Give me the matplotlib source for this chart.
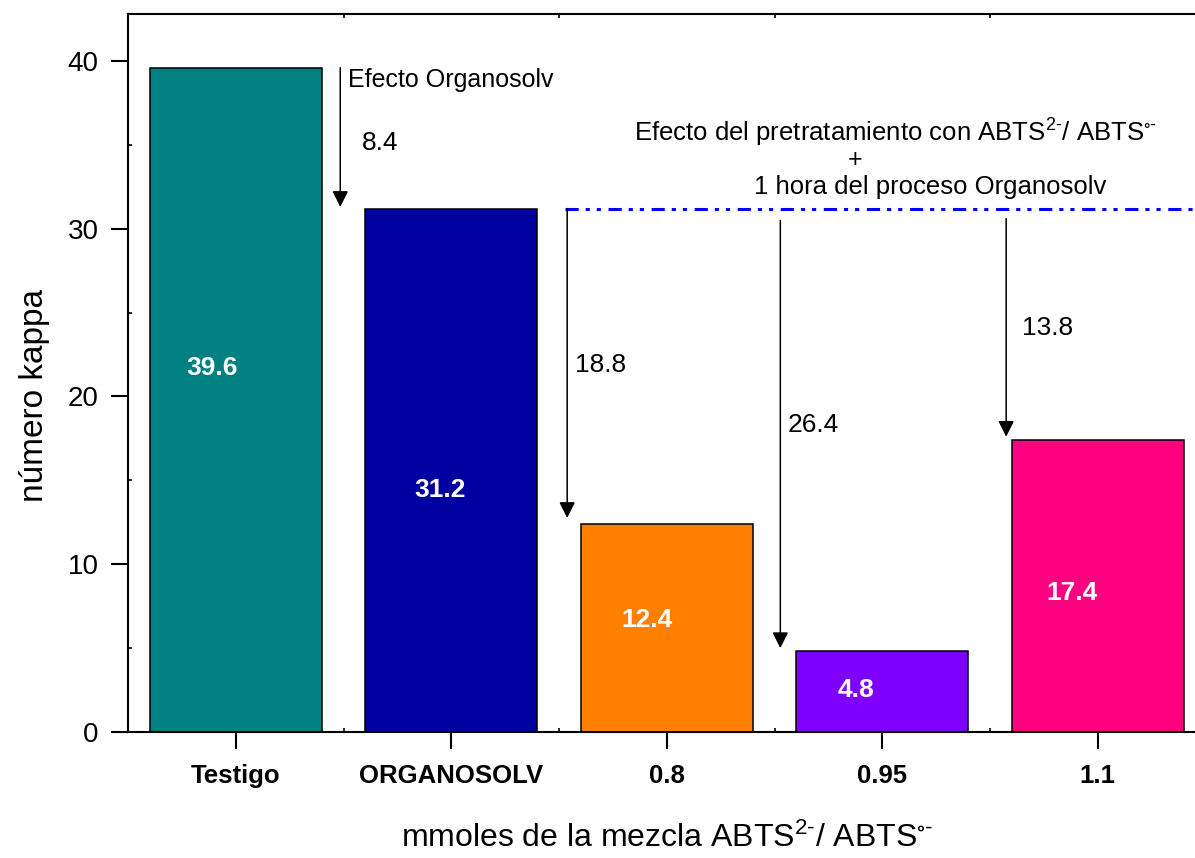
import matplotlib
matplotlib.use('Agg')
import matplotlib.pyplot as plt
from matplotlib.ticker import FixedLocator

plt.rcParams['font.family'] = ['Liberation Sans', 'DejaVu Sans']
plt.rcParams['mathtext.fontset'] = 'custom'
plt.rcParams['mathtext.rm'] = 'Liberation Sans'
plt.rcParams['mathtext.it'] = 'Liberation Sans'
plt.rcParams['mathtext.default'] = 'regular'
plt.rcParams['lines.scale_dashes'] = False

# data
categories = ['Testigo', 'ORGANOSOLV', '0.8', '0.95', '1.1']
kappa = [39.6, 31.2, 12.4, 4.8, 17.4]
bar_colors = ['#008080', '#0000A0', '#FF8000', '#8000FF', '#FF0080']
drop_organosolv = 8.4
drops = [18.8, 26.4, 13.8]

# layout of the in-bar labels
label_y = [21.7, 14.4, 6.7, 2.5, 8.3]
label_dx = [-0.11, -0.05, -0.09, -0.12, -0.12]

fig = plt.figure(figsize=(11.95, 8.58), dpi=100)
ax = fig.add_axes([128 / 1195, 126 / 858, 1077.5 / 1195, 718 / 858])

x = list(range(len(categories)))
ax.bar(x, kappa, width=0.8, color=bar_colors, edgecolor='black', linewidth=1.1, zorder=2)

for i, v in enumerate(kappa):
    ax.text(i + label_dx[i], label_y[i], '%.1f' % v, color='white', fontsize=19,
            fontweight='bold', ha='center', va='center', zorder=3)

ax.set_xlim(-0.5, 4.5)
ax.set_ylim(0, 42.8)

# arrows
arrow = dict(arrowstyle='-|>', color='black', lw=1.1, mutation_scale=24, shrinkA=0, shrinkB=0)
ax.annotate('', xy=(0.485, kappa[0] - drop_organosolv + 0.1), xytext=(0.485, kappa[0]), arrowprops=arrow)
ax.text(0.522, 38.87, 'Efecto Organosolv', fontsize=18, ha='left', va='center')
ax.text(0.587, 35.1, '%.1f' % drop_organosolv, fontsize=19, ha='left', va='center')

# reference line at the ORGANOSOLV level
ax.plot([1.53, 4.5], [kappa[1], kappa[1]], color='#0000FF', lw=2.2,
        dashes=(9.5, 5, 3, 5, 3, 5.5), zorder=1)

arrow_x = [1.538, 2.527, 3.575]
arrow_start = [kappa[1], 30.5, 30.6]
tips = [12.76, 5.0, 17.6]
text_x = [1.575, 2.56, 3.650]
text_y = [21.9, 18.3, 24.1]
for ax_x, y0, y1, tx, ty, d in zip(arrow_x, arrow_start, tips, text_x, text_y, drops):
    ax.annotate('', xy=(ax_x, y1), xytext=(ax_x, y0), arrowprops=arrow)
    ax.text(tx, ty, '%.1f' % d, fontsize=19, ha='left', va='center')

ax.text(3.06, 35.7, r'Efecto del pretratamiento con ABTS$^{2\text{-}}$/ ABTS$^{\circ\text{-}}$',
        fontsize=18.5, ha='center', va='center')
ax.text(2.875, 34.1, '+', fontsize=18, ha='center', va='center')
ax.text(3.223, 32.5, '1 hora del proceso Organosolv', fontsize=18.5, ha='center', va='center')

# axes styling
for s in ax.spines.values():
    s.set_linewidth(1.5)
ax.set_xticks(x)
ax.set_xticklabels(categories, fontsize=18.5, fontweight='bold')
ax.xaxis.set_minor_locator(FixedLocator([i + 0.5 for i in range(-1, 5)]))
ax.set_yticks([0, 10, 20, 30, 40])
ax.yaxis.set_minor_locator(FixedLocator([5, 15, 25, 35]))
ax.tick_params(axis='both', which='major', direction='out', length=12, width=1.5,
               labelsize=20, top=False, right=False)
ax.tick_params(axis='x', which='major', pad=11, labelsize=18.5)
ax.tick_params(axis='y', which='major', pad=9)
ax.tick_params(axis='both', which='minor', direction='in', length=3, width=1.2,
               top=True, right=False)

ax.set_xlabel(r'mmoles de la mezcla ABTS$^{2\text{-}}$/ ABTS$^{\circ\text{-}}$', fontsize=23, labelpad=25)
fig.text(35 / 1195, 1 - 395 / 858, 'número kappa', fontsize=24, rotation=90,
         ha='center', va='center')

fig.savefig('out.png', dpi=100)
